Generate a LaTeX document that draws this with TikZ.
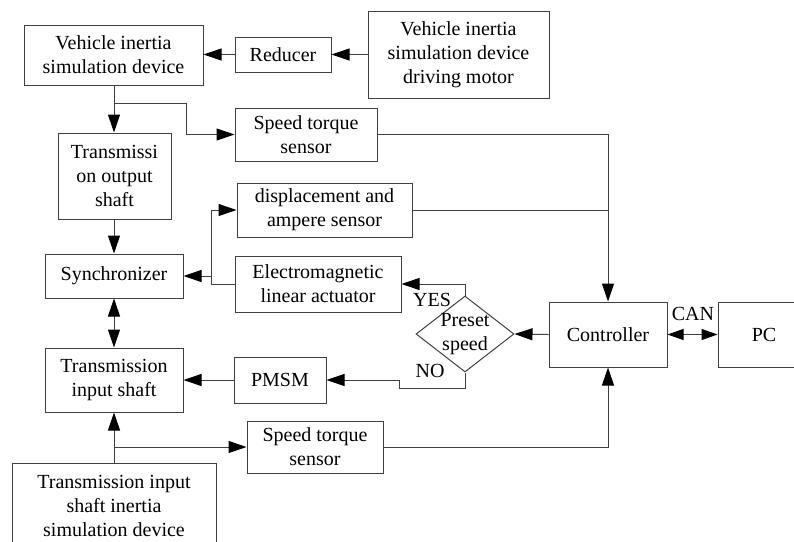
\documentclass[tikz,border=0pt]{standalone}
\usepackage{fontspec}
\setmainfont{Liberation Serif}
\newfontfamily\blockfont{Liberation Serif}
\usetikzlibrary{arrows.meta,shapes.geometric}
\begin{document}
\begin{tikzpicture}[x=1pt,y=-1pt,
  every node/.style={font=\blockfont\fontsize{20}{24}\selectfont},
  box/.style={draw=black!75,line width=1pt,inner sep=0pt,align=center,fill=white},
  conn/.style={draw=black!75,line width=1pt},
  tip/.style={Triangle[length=18pt,width=12pt,color=black,fill=black]},
  ctip/.style={Triangle[length=16pt,width=11pt,color=black,fill=black]},
  arr/.style={conn,-{Triangle[length=18pt,width=12pt,color=black,fill=black]}},
  darr/.style={conn,{Triangle[length=18pt,width=12pt,color=black,fill=black]}-{Triangle[length=18pt,width=12pt,color=black,fill=black]}},
  carr/.style={conn,{Triangle[length=16pt,width=11pt,color=black,fill=black]}-{Triangle[length=16pt,width=11pt,color=black,fill=black]}},
  dia/.style={draw=black!75,line width=1pt,shape=diamond,inner sep=0pt,minimum width=98pt,minimum height=76pt},
  lbl/.style={inner sep=0pt}]
\useasboundingbox (0,0) rectangle (794,541);
\clip (0,0) rectangle (794,541);

% blocks
\node[box,minimum width=179pt,minimum height=60pt] (vis) at (113.5,55) {Vehicle inertia\\simulation device};
\node[box,minimum width=96pt,minimum height=35pt] (red) at (283,54.5) {Reducer};
\node[box,minimum width=181pt,minimum height=87pt] (mot) at (458.5,54.5) {Vehicle inertia\\simulation device\\driving motor};
\node[box,minimum width=142pt,minimum height=53pt] (st1) at (306,134.5) {Speed torque\\sensor};
\node[box,minimum width=113pt,minimum height=86pt] (tos) at (114.5,176) {Transmissi\\on output\\shaft};
\node[box,minimum width=175pt,minimum height=54pt] (das) at (324.5,210) {displacement and\\ampere sensor};
\node[box,minimum width=138pt,minimum height=44pt] (syn) at (114,276) {Synchronizer};
\node[box,minimum width=166pt,minimum height=56pt] (ema) at (318,284) {Electromagnetic\\linear actuator};
\node[box,minimum width=138pt,minimum height=64pt] (tis) at (114,380) {Transmission\\input shaft};
\node[box,minimum width=92pt,minimum height=46pt] (pms) at (280,380) {PMSM};
\node[box,minimum width=136pt,minimum height=52pt] (st2) at (315,447) {Speed torque\\sensor};
\node[box,minimum width=204pt,minimum height=85pt] (tii) at (114,505.5) {Transmission input\\shaft inertia\\simulation device};
\node[box,minimum width=118pt,minimum height=65pt] (con) at (608,334.5) {Controller};
\node[box,minimum width=92pt,minimum height=65pt] (pc) at (764,334.5) {PC};
\node[dia] (dec) at (465,334) {};
\node[lbl,align=center] (dect) at (dec.center) {Preset\\speed};

% junction points
\coordinate (j1) at (114,103);
\coordinate (j1b) at (186,103);
\coordinate (j2) at (211,284);
\coordinate (j3) at (114,447);
\coordinate (n1) at (399,380);

% connectors
\draw[arr] (red.west) -- (red.west -| vis.east);
\draw[arr] (mot.west) -- (red.east);
\draw[arr] (vis.south -| j1) -- (tos.north -| j1);
\draw[arr] (j1) -- (j1b) |- (st1.west);
\draw[arr] (st1.east) -| (con.north);
\draw[conn] (das.east) -- (das.east -| con.north);
\draw[arr] (tos.south -| syn.north) -- (syn.north);
\draw[arr] (ema.west) -- (j2) |- (das.west);
\draw[arr] (j2 |- syn.east) -- (syn.east);
\draw[darr] (syn.south) -- (tis.north);
\draw[arr] (dec.north) |- (ema.east);
\draw[arr] (dec.south) -- ++(0,16) -| (n1) -- (pms.east);
\draw[arr] (con.west) -- (dec.east);
\draw[carr] (con.east) -- (pc.west);
\draw[arr] (pms.west) -- (tis.east);
\draw[arr] (tii.north) -- (tis.south);
\draw[arr] (j3) -- (st2.west);
\draw[arr] (st2.east) -| (con.south);

% labels
\node[lbl] (yes) at (432,300) {YES};
\node[lbl] (no) at (430,371) {NO};
\node[lbl] (can) at (693,314) {CAN};
\end{tikzpicture}
\end{document}
